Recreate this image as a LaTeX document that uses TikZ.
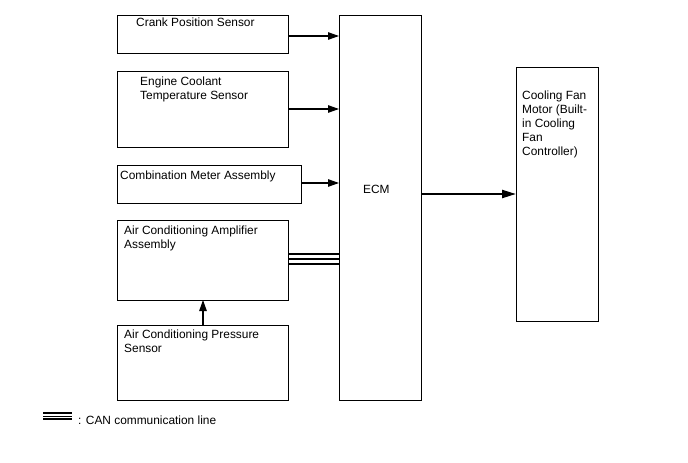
\documentclass[tikz,border=0pt]{standalone}
\usepackage{fontspec}
\setmainfont{Liberation Sans}
\usetikzlibrary{arrows.meta}
\begin{document}
\begin{tikzpicture}[x=1pt,y=-1pt,
  blk/.style={draw, line width=1.1pt, inner sep=0pt, anchor=north west},
  txt/.style={anchor=base west, inner sep=0pt, align=left, font=\fontsize{11.9}{14}\selectfont},
  sig/.style={line width=1.1pt, -{Triangle[length=11pt,width=7.5pt]}},
  canl/.style={line width=2.3pt}]
\useasboundingbox (0,0) rectangle (688,463);
% boxes
\node[blk, minimum width=171pt, minimum height=38pt] (crank) at (117,15) {};
\node[blk, minimum width=171pt, minimum height=76pt] (ect) at (117,71) {};
\node[blk, minimum width=184pt, minimum height=38pt] (cm) at (117,165) {};
\node[blk, minimum width=171pt, minimum height=80pt] (amp) at (117,220) {};
\node[blk, minimum width=171pt, minimum height=75pt] (pres) at (117,325) {};
\node[blk, minimum width=82pt, minimum height=385pt] (ecm) at (339,15) {};
\node[blk, minimum width=82pt, minimum height=254pt] (fan) at (516,67) {};
% texts (base = last line's baseline)
\node[txt] (t1) at (136,26) {Crank Position Sensor};
\node[txt] (t2) at (140,99) {Engine Coolant\\Temperature Sensor};
\node[txt] (t3) at (120,179) {Combination Meter Assembly};
\node[txt] (t4) at (124,248) {Air Conditioning Amplifier\\Assembly};
\node[txt] (t5) at (124,352) {Air Conditioning Pressure\\Sensor};
\node[txt] (t6) at (363,193) {ECM};
\node[txt] (t7) at (522,155) {Cooling Fan\\Motor (Built-\\in Cooling\\Fan\\Controller)};
\node[txt] (t8) at (78,424) {: CAN communication line};
% coordinates
\coordinate (c1) at (288,36); \coordinate (e1) at (339,36);
\coordinate (c2) at (288,109); \coordinate (e2) at (339,109);
\coordinate (c3) at (301,183); \coordinate (e3) at (339,183);
\coordinate (p1) at (203,325); \coordinate (a1) at (203,300);
\coordinate (m1) at (421,194); \coordinate (f1) at (516,194);
\draw[sig] (c1) -- (e1);
\draw[sig] (c2) -- (e2);
\draw[sig] (c3) -- (e3);
\draw[sig] (p1) -- (a1);
\draw[line width=2.2pt, -{Triangle[length=14pt,width=8pt]}] (m1) -- (f1);
% CAN lines
\coordinate (ca1) at (288,253.8); \coordinate (cb1) at (339,253.8);
\coordinate (ca2) at (288,259); \coordinate (cb2) at (339,259);
\coordinate (ca3) at (288,263.8); \coordinate (cb3) at (339,263.8);
\draw[canl] (ca1) -- (cb1);
\draw[line width=1.6pt] (ca2) -- (cb2);
\draw[canl] (ca3) -- (cb3);
% legend
\coordinate (la1) at (43,413); \coordinate (lb1) at (72,413);
\coordinate (la2) at (43,416.2); \coordinate (lb2) at (72,416.2);
\coordinate (la3) at (43,419.2); \coordinate (lb3) at (72,419.2);
\draw[line width=2pt] (la1) -- (lb1);
\draw[line width=1.4pt] (la2) -- (lb2);
\draw[line width=2pt] (la3) -- (lb3);
\end{tikzpicture}
\end{document}
